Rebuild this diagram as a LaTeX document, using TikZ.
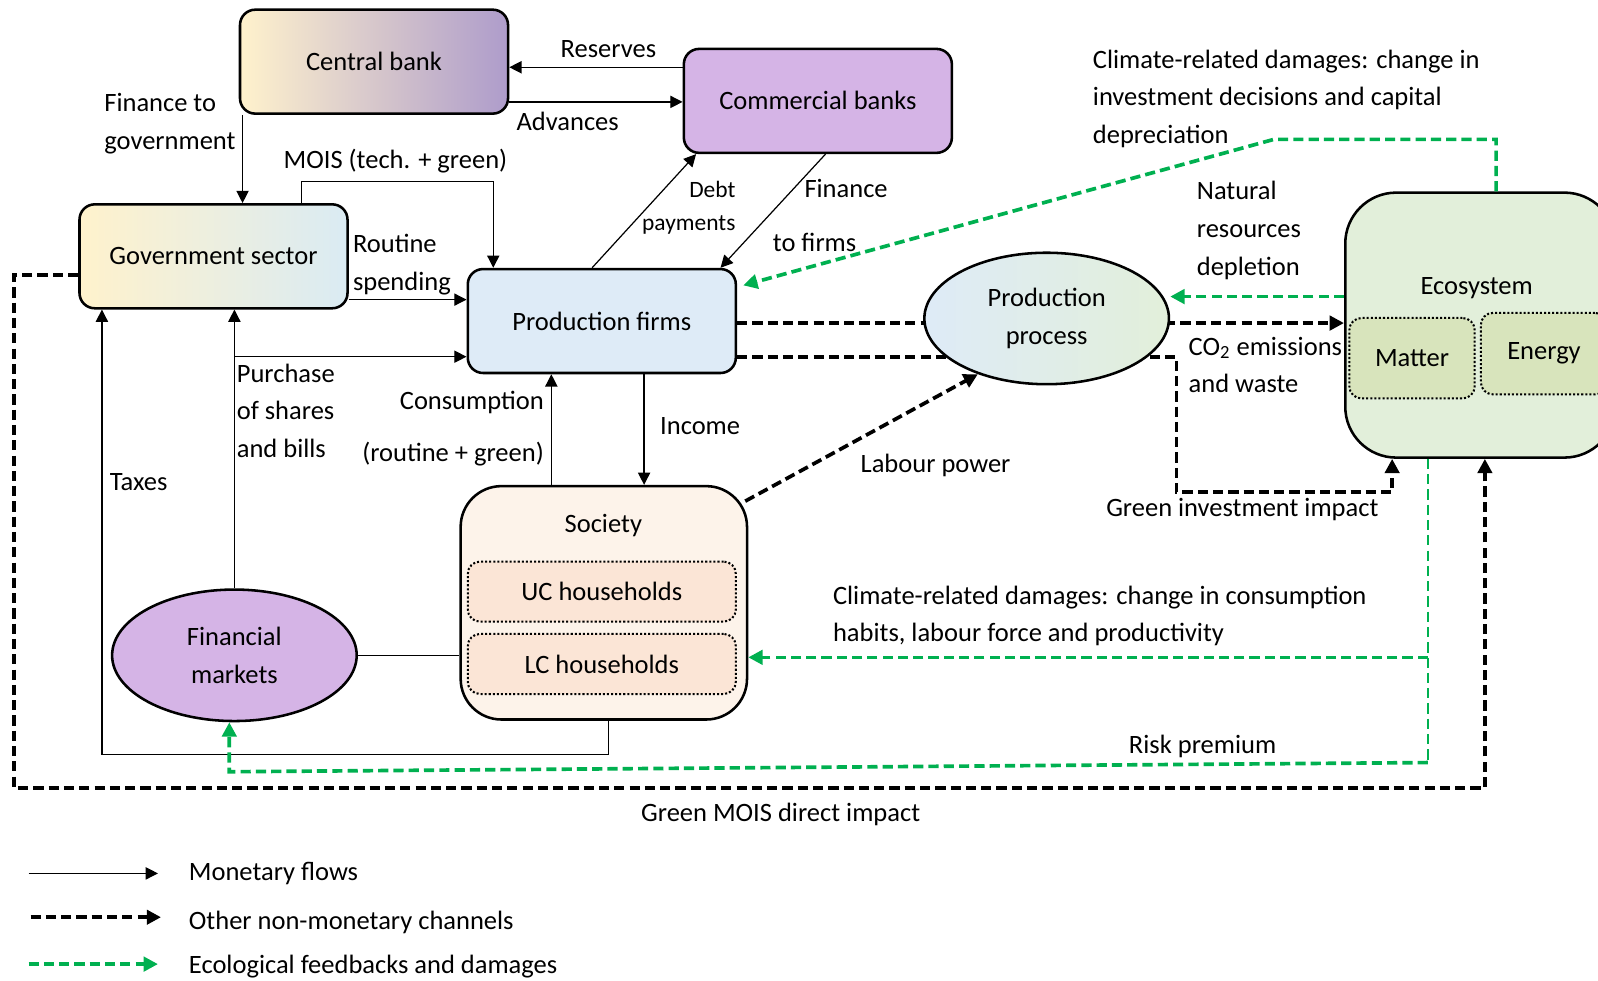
\documentclass[tikz,border=0pt]{standalone}
\usepackage{fontspec}
\setmainfont{Carlito}
\usetikzlibrary{shapes.geometric,arrows.meta}

\definecolor{ecogreen}{HTML}{00B050}
\definecolor{creamy}{HTML}{FFF2CC}
\definecolor{mauve}{HTML}{AE9CCB}
\definecolor{lilac}{HTML}{D5B4E6}
\definecolor{paleblue}{HTML}{DEEBF7}
\definecolor{iceblue}{HTML}{DAEBF3}
\definecolor{palegreen}{HTML}{E2EFDA}
\definecolor{olivegreen}{HTML}{D8E4BC}
\definecolor{peach}{HTML}{FDF3EA}
\definecolor{apricot}{HTML}{FBE5D6}

\tikzstyle{box} = [rectangle,draw,line width=1.25pt,rounded corners=7.5pt,minimum width=131.5pt,minimum height=51pt,align=center]
\tikzstyle{blob} = [ellipse,draw,line width=1.25pt,minimum width=120pt,minimum height=64.5pt,align=center,inner sep=0pt]
\tikzstyle{subbox} = [rectangle,draw,line width=1pt,dash pattern=on 1pt off 1pt,rounded corners=6pt,align=center]

\begin{document}
\begin{tikzpicture}
  [x=0.5pt,y=-0.5pt,
  font=\fontsize{13}{18.5}\selectfont,
  mflow/.style={line width=0.6pt,-{Triangle[length=6pt,width=6pt]}},
  mline/.style={line width=0.6pt},
  nflow/.style={line width=1.8pt,dash pattern=on 5pt off 2.5pt,-{Triangle[length=7pt,width=7pt]}},
  gflow/.style={nflow,ecogreen},
  gthin/.style={line width=1pt,dash pattern=on 5pt off 2.5pt,ecogreen},
  lbl/.style={inner sep=0pt,align=left}]
  \useasboundingbox (0,0) rectangle (1568,962);

  % sectors
  \node[box,left color=creamy,right color=mauve](cb) at (367,60.5) {Central bank};
  \node[box,fill=lilac](comm) at (802.5,99) {Commercial banks};
  \node[box,left color=creamy,right color=iceblue](gov) at (209.5,251.5) {Government sector};
  \node[box,fill=paleblue](firms) at (590.5,315) {Production firms};
  \node[box,fill=palegreen,rounded corners=25pt,minimum width=132.5pt,minimum height=130pt](eco) at (1452.5,319) {};
  \node(ecolbl) at (1449,283) {Ecosystem};
  \node[subbox,fill=olivegreen,minimum width=61.5pt,minimum height=39.5pt](matter) at (1385.5,351.5) {Matter};
  \node[subbox,fill=olivegreen,minimum width=62pt,minimum height=40pt](energy) at (1515,347) {Energy};
  \node[box,fill=peach,rounded corners=20pt,minimum width=140.5pt,minimum height=114.5pt](soc) at (592.5,591.5) {};
  \node(soclbl) at (592,516) {Society};
  \node[subbox,fill=apricot,minimum width=131.5pt,minimum height=29.5pt](uc) at (590.5,580.5) {UC households};
  \node[subbox,fill=apricot,minimum width=131.5pt,minimum height=29.5pt](lc) at (590.5,651.5) {LC households};
  \node[blob,fill=lilac](fin) at (230,643) {Financial\\markets};

  % monetary flows
  \draw[mflow] ([yshift=16.5pt]comm.west) coordinate (res) -- (res -| cb.east);
  \draw[mflow] ([yshift=-19.75pt]cb.east) coordinate (adv) -- (adv -| comm.west);
  \draw[mflow] ([xshift=-64.5pt]cb.south) coordinate (fg) -- (fg |- gov.north);
  \draw[mflow] ([xshift=43.25pt]gov.north) -- ++(0,-21) -| ([xshift=-53.25pt]firms.north);
  \draw[mflow] ([yshift=-21.25pt]gov.east) coordinate (rs) -- (rs -| firms.west);
  \draw[mflow] (fin.north) -- (fin.north |- gov.south);
  \path ([yshift=-17.5pt]firms.west) coordinate (psb);
  \draw[mflow] (psb -| fin.north) -- (psb);
  \draw[mflow] ([xshift=2.25pt]soc.south) -- ++(0,33) -| ([xshift=-54.75pt]gov.south);
  \draw[mline] (fin.east) -- (fin.east -| soc.west);
  \draw[mflow] ([xshift=-25.75pt]soc.north) coordinate (cons) -- (cons |- firms.south);
  \draw[mflow] ([xshift=20.75pt]firms.south) coordinate (inc) -- (inc |- soc.north);
  \draw[mflow] ([xshift=-4.75pt]firms.north) -- ([xshift=-59.75pt]comm.south);
  \draw[mflow] ([xshift=3.75pt]comm.south) -- ([xshift=58.25pt]firms.north);

  % non-monetary channels
  \draw[nflow] ([yshift=-1pt]firms.east) coordinate (co) -- (co -| eco.west);
  \draw[nflow] ([yshift=-17.5pt]firms.east) -- ++(431,0) -- ++(0,133) -| ([xshift=-43.25pt]eco.south);
  \node[blob,left color=paleblue,right color=palegreen](pp) at (1027,312.5) {Production\\process};
  \draw[nflow] ([shift={(-3,16)}]soc.north east) -- (pp.219);
  \draw[nflow] ([yshift=-9.25pt]gov.west) -- ++(-63,0) -- ++(0,503) -| ([xshift=2.25pt]eco.south);

  % ecological feedbacks
  \draw[gflow] ([xshift=7.75pt]eco.north) -- ++(0,-51) -- ++(-218,0) -- ([xshift=3pt,yshift=17.5pt]firms.east);
  \draw[gflow] ([yshift=14pt]eco.west) coordinate (nr) -- (nr -| pp.east);
  \draw[gthin] ([xshift=-25.75pt]eco.south) coordinate (gv) -- ++(0,298) coordinate (rp);
  \path ([yshift=-26.75pt]soc.east) coordinate (cdend);
  \draw[gflow] (gv |- cdend) -- (cdend);
  \draw[gflow] (rp) -- ++(-1176,9) coordinate (rpc) -- (rpc |- fin.south);

  % labels
  \node[lbl] (lres) at (597,48) {Reserves};
  \node[lbl] (ladv) at (557,119) {Advances};
  \node[lbl,anchor=west] (lfg) at (102,121.5) {Finance to\\government};
  \node[lbl] (lmois) at (388,158) {MOIS (tech. + green)};
  \node[lbl,anchor=west] (lrout) at (346,259.5) {Routine\\spending};
  \node[lbl,align=right,anchor=east,font=\fontsize{11.5}{16}\selectfont] (ldebt) at (722,204) {Debt\\payments};
  \node[lbl,anchor=west] (lfin1) at (789,185) {Finance};
  \node[lbl,anchor=west] (lfin2) at (758,238) {to firms};
  \node[lbl,anchor=west] (lcdi) at (1072,97) {Climate-related damages: change in\\investment decisions and capital\\depreciation};
  \node[lbl,anchor=west] (lnat) at (1174,226) {Natural\\resources\\depletion};
  \node[lbl,anchor=west] (lco) at (1166,358) {CO\textsubscript{2} emissions\\and waste};
  \node[lbl,anchor=west] (lpsb) at (232,403) {Purchase\\of shares\\and bills};
  \node[lbl,align=right,anchor=east] (lcons) at (534,420.5) {Consumption\\[7pt](routine + green)};
  \node[lbl] (linc) at (687,418) {Income};
  \node[lbl] (ltax) at (136,473) {Taxes};
  \node[lbl] (llab) at (918,457) {Labour power};
  \node[lbl] (lgii) at (1219,500) {Green investment impact};
  \node[lbl,anchor=west] (lcdc) at (817,604.5) {Climate-related damages: change in consumption\\habits, labour force and productivity};
  \node[lbl] (lrisk) at (1180,732) {Risk premium};
  \node[lbl] (lgmois) at (766,799) {Green MOIS direct impact};

  % legend
  \coordinate (m0) at (28,857); \coordinate (m1) at (155,857);
  \draw[mflow] (m0) -- (m1);
  \node[lbl,anchor=west] (lm) at (185,857) {Monetary flows};
  \coordinate (n0) at (30,900); \coordinate (n1) at (158,900);
  \draw[nflow] (n0) -- (n1);
  \node[lbl,anchor=west] (ln) at (185,905) {Other non-monetary channels};
  \coordinate (g0) at (28,946); \coordinate (g1) at (155,946);
  \draw[gflow] (g0) -- (g1);
  \node[lbl,anchor=west] (lg) at (185,948) {Ecological feedbacks and damages};
\end{tikzpicture}
\end{document}
